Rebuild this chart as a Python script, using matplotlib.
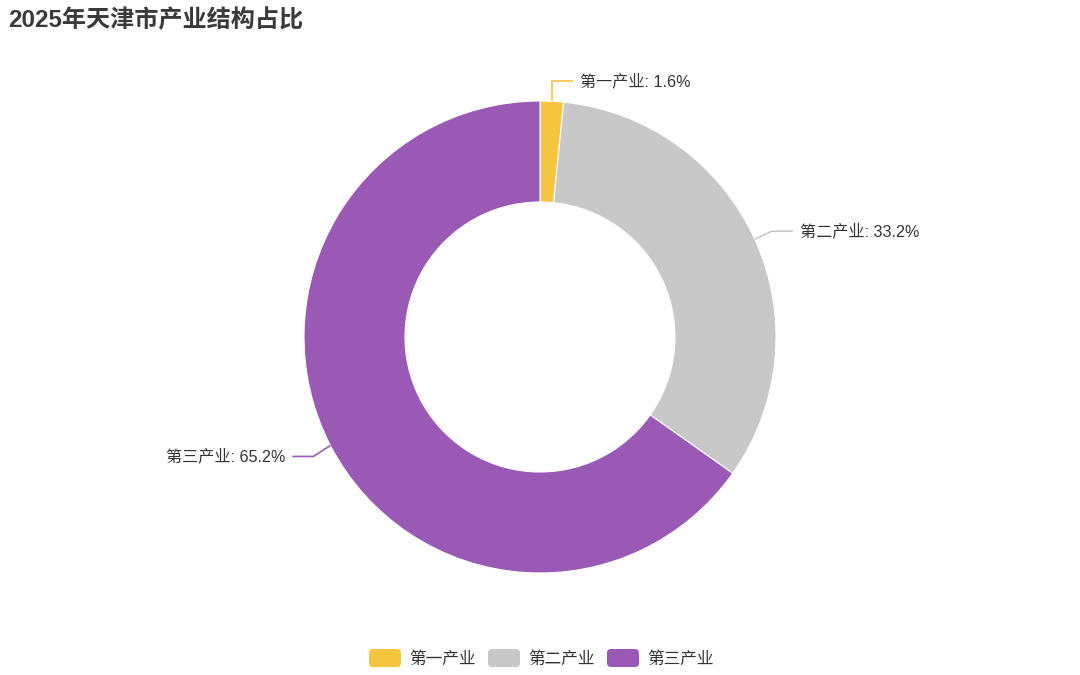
import matplotlib

matplotlib.use("Agg")
import matplotlib.pyplot as plt
import numpy as np
from matplotlib.patches import FancyBboxPatch

plt.rcParams["font.family"] = ["Liberation Sans", "Noto Sans CJK SC", "DejaVu Sans"]

TITLE = "2025年天津市产业结构占比"
categories = ["第一产业", "第二产业", "第三产业"]
shares = [1.6, 33.2, 65.2]
colors = ["#F5C540", "#C8C8C8", "#9A59B5"]

W, H = 1080, 675
CX, CY = 540, H - 337
R_OUT, R_IN = 236, 135
TEXT = "#333333"

fig = plt.figure(figsize=(W / 100, H / 100), dpi=100)
ax = fig.add_axes([0, 0, 1, 1])

wedges, _ = ax.pie(
    shares,
    colors=colors,
    startangle=90,
    counterclock=False,
    center=(CX, CY),
    radius=R_OUT,
    wedgeprops=dict(width=R_OUT - R_IN, edgecolor="white", linewidth=0.8),
    frame=True,
)
ax.set_xlim(0, W)
ax.set_ylim(0, H)
ax.set_aspect("equal")
ax.axis("off")

# leader lines + labels
for i, (w, cat, val) in enumerate(zip(wedges, categories, shares)):
    mid = np.deg2rad((w.theta1 + w.theta2) / 2)
    x0 = CX + R_OUT * np.cos(mid)
    y0 = CY + R_OUT * np.sin(mid)
    label = f"{cat}: {val}%"
    if i == 0:
        x1, y1 = x0, y0 + 20
        x2 = x1 + 21
        ha, tx = "left", x2 + 7
    else:
        right = np.cos(mid) >= 0
        x1 = x0 + (17 if right else -17)
        y1 = y0 + (8 if np.sin(mid) > 0 else -11)
        x2 = x1 + (21 if right else -21)
        ha = "left" if right else "right"
        tx = x2 + (7 if right else -7)
    ax.plot([x0, x1, x2], [y0, y1, y1], color=w.get_facecolor(), lw=1.2,
            solid_capstyle="butt", solid_joinstyle="miter")
    ax.text(tx, y1, label, ha=ha, va="center", fontsize=11.6, color=TEXT)

fig.text(8 / W, 1 - 20 / H, TITLE, fontsize=17.4, fontweight="bold",
         color="#3a3a3a", ha="left", va="center")

# legend
lx = [369, 488, 607]
for x, cat, c in zip(lx, categories, colors):
    box = FancyBboxPatch((x, H - 667), 32, 18,
                         boxstyle="round,pad=0,rounding_size=4",
                         facecolor=c, edgecolor="none")
    ax.add_patch(box)
    ax.text(x + 40, H - 659, cat, ha="left", va="center", fontsize=12, color=TEXT)

fig.savefig("out.png", dpi=100, facecolor="white")
